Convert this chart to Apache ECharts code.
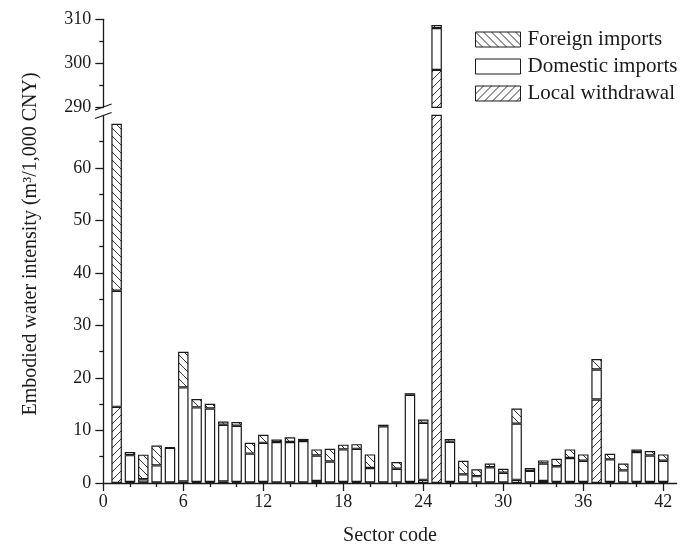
<!DOCTYPE html>
<html>
<head>
<meta charset="utf-8">
<script src="https://cdn.jsdelivr.net/npm/echarts@6/dist/echarts.min.js"></script>
<style>html,body{margin:0;padding:0;background:#fff}#c{width:689px;height:551px}</style>
</head>
<body>
<div id="c"></div>
<script>
const xCategories = [0,1,2,3,4,5,6,7,8,9,10,11,12,13,14,15,16,17,18,19,20,21,22,23,24,25,26,27,28,29,30,31,32,33,34,35,36,37,38,39,40,41,42,43];
const sectorCodes = [1,2,3,4,5,6,7,8,9,10,11,12,13,14,15,16,17,18,19,20,21,22,23,24,25,26,27,28,29,30,31,32,33,34,35,36,37,38,39,40,41,42];
const localWithdrawal = [14.5,0.2,0.1,0.1,0.1,0.3,0.2,0.2,0.3,0.2,0.1,0.2,0.1,0.1,0.1,0.4,0.1,0.2,0.2,0.1,0.1,0.1,0.2,0.6,298.5,0.2,0.1,0.1,0.1,0.1,0.6,0.1,0.4,0.2,0.2,0.2,15.9,0.2,0.1,0.2,0.2,0.2];
const domesticImports = [22.1,5.1,0.6,3.25,6.6,17.9,14.2,14.0,10.8,10.7,5.5,7.45,7.7,7.7,7.9,4.85,4.0,6.2,6.3,2.75,10.7,2.6,16.6,10.85,9.5,7.65,1.55,1.2,2.9,1.85,10.7,2.2,3.3,3.0,4.55,4.05,5.7,4.3,2.3,5.7,5.05,4.05];
const foreignImports = [31.8,0.6,4.7,3.8,0.1,6.8,1.6,0.9,0.6,0.7,2.05,1.55,0.5,0.9,0.4,1.15,2.4,0.9,0.9,2.6,0.3,1.3,0.3,0.65,0.7,0.55,2.6,1.3,0.7,0.75,2.9,0.55,0.6,1.4,1.65,1.2,2.0,1.05,1.3,0.5,0.85,1.2];
const xLabelStep = 6;
const xMinorStep = 2;
const yLowerLabels = [0,10,20,30,40,50,60];
const yUpperLabels = [290,300,310];
const seriesNames = ['Foreign imports','Domestic imports','Local withdrawal'];

const FONT = 'Liberation Serif';
const INK = '#1a1a1a';

function hatch(dir){
  const s = 8;
  const c = document.createElement('canvas');
  c.width = s; c.height = s;
  const g = c.getContext('2d');
  g.fillStyle = '#fff'; g.fillRect(0,0,s,s);
  g.strokeStyle = '#333'; g.lineWidth = 1;
  g.beginPath();
  if (dir > 0) {
    g.moveTo(-1,s+1); g.lineTo(s+1,-1);
    g.moveTo(-1,1); g.lineTo(1,-1);
    g.moveTo(s-1,s+1); g.lineTo(s+1,s-1);
  } else {
    g.moveTo(-1,-1); g.lineTo(s+1,s+1);
    g.moveTo(s-1,-1); g.lineTo(s+1,1);
    g.moveTo(-1,s-1); g.lineTo(1,s+1);
  }
  g.stroke();
  return c;
}
const fills = {
  'Foreign imports': {image: hatch(-1), repeat: 'repeat'},
  'Domestic imports': '#ffffff',
  'Local withdrawal': {image: hatch(1), repeat: 'repeat'}
};
const valuesByName = {
  'Foreign imports': foreignImports,
  'Domestic imports': domesticImports,
  'Local withdrawal': localWithdrawal
};

const GL = 103.3, GR = 12.4;
const lowerGrid = {left: GL, right: GR, top: 115.4, bottom: 66.7};
const upperGrid = {left: GL, right: GR, top: 19.3, bottom: 443.7};

const axisLineStyle = {color: INK, width: 1.3};
const labelStyle = {fontFamily: FONT, fontSize: 18, color: INK};

function seriesData(name){
  const vals = valuesByName[name];
  return xCategories.map(c => {
    const i = sectorCodes.indexOf(c);
    return i < 0 ? '-' : vals[i];
  });
}

function makeSeries(gridIdx){
  const order = ['Local withdrawal','Domestic imports','Foreign imports'];
  return order.map(name => ({
    name: name,
    type: 'bar',
    xAxisIndex: gridIdx === 0 ? 0 : 2,
    yAxisIndex: gridIdx,
    stack: 'total' + gridIdx,
    barWidth: 10.5,
    clip: true,
    itemStyle: {color: fills[name], borderColor: INK, borderWidth: 1.2},
    emphasis: {disabled: true},
    animation: false,
    data: seriesData(name)
  }));
}

const chart = echarts.init(document.getElementById('c'), null, {renderer: 'canvas'});
chart.setOption({
  animation: false,
  backgroundColor: '#fff',
  grid: [lowerGrid, upperGrid],
  legend: {
    data: seriesNames.map(n => ({name: n, icon: 'rect'})),
    orient: 'vertical',
    left: 475, top: 29, padding: 0,
    itemWidth: 45, itemHeight: 15, itemGap: 6,
    selectedMode: false,
    textStyle: {fontFamily: FONT, fontSize: 21, color: INK, padding: [0,0,0,2]},
    itemStyle: {borderColor: INK, borderWidth: 1}
  },
  xAxis: [
    {
      type: 'category', gridIndex: 0, data: xCategories, boundaryGap: false, position: 'bottom',
      name: 'Sector code', nameLocation: 'middle', nameGap: 43,
      nameTextStyle: {fontFamily: FONT, fontSize: 20, color: INK, verticalAlign: 'top'},
      axisLine: {show: true, lineStyle: axisLineStyle},
      axisTick: {show: true, inside: false, length: 8, lineStyle: axisLineStyle, interval: (i) => i % xLabelStep === 0},
      axisLabel: {show: true, margin: 10, interval: (i) => i % xLabelStep === 0, ...labelStyle},
      splitLine: {show: false}
    },
    {
      type: 'category', gridIndex: 0, data: xCategories, boundaryGap: false, position: 'bottom',
      axisLine: {show: false},
      axisTick: {show: true, inside: false, length: 4, lineStyle: axisLineStyle, interval: (i) => i % xMinorStep === 0 && i % xLabelStep !== 0},
      axisLabel: {show: false},
      splitLine: {show: false}
    },
    {
      type: 'category', gridIndex: 1, data: xCategories, boundaryGap: false, show: false,
      splitLine: {show: false}
    }
  ],
  yAxis: [
    {
      type: 'value', gridIndex: 0, min: 0, max: 70, interval: 10,
      axisLine: {show: true, lineStyle: axisLineStyle},
      axisTick: {show: true, inside: false, length: 8, lineStyle: axisLineStyle, customValues: yLowerLabels},
      minorTick: {show: true, splitNumber: 2, length: 4, lineStyle: axisLineStyle},
      axisLabel: {show: true, margin: 12, customValues: yLowerLabels, ...labelStyle},
      splitLine: {show: false}, minorSplitLine: {show: false}
    },
    {
      type: 'value', gridIndex: 1, min: 290, max: 310, interval: 10,
      axisLine: {show: true, lineStyle: axisLineStyle},
      axisTick: {show: true, inside: false, length: 8, lineStyle: axisLineStyle},
      minorTick: {show: true, splitNumber: 2, length: 4, lineStyle: axisLineStyle},
      axisLabel: {show: true, margin: 12, customValues: yUpperLabels, ...labelStyle},
      splitLine: {show: false}, minorSplitLine: {show: false}
    }
  ],
  series: [...makeSeries(0), ...makeSeries(1)],
  graphic: [
    {type: 'text', x: 31, y: 244, rotation: Math.PI/2, silent: true,
     style: {text: 'Embodied water intensity (m³/1,000 CNY)', font: '20px "Liberation Serif"', fill: INK, align: 'center', verticalAlign: 'middle'}},
    {type: 'line', silent: true, shape: {x1: 95, y1: 110, x2: 111.6, y2: 104}, style: {stroke: INK, lineWidth: 1.3}},
    {type: 'line', silent: true, shape: {x1: 95, y1: 118.5, x2: 111.6, y2: 112.5}, style: {stroke: INK, lineWidth: 1.3}}
  ]
});
</script>
</body>
</html>
